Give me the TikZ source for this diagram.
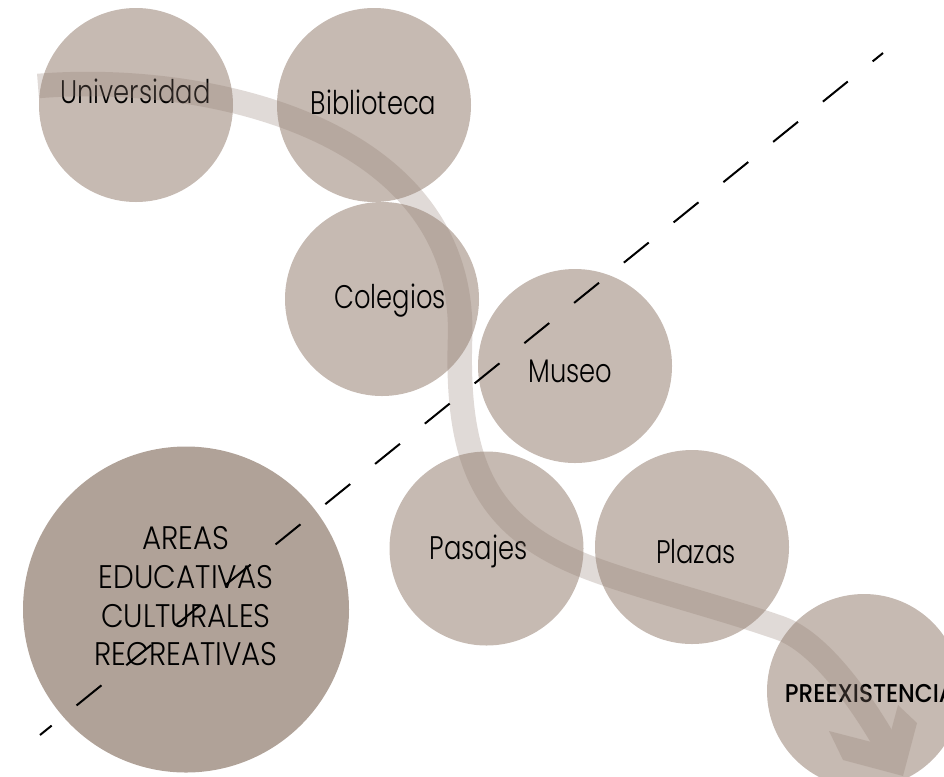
\documentclass[tikz,border=0pt]{standalone}
\usepackage{fontspec}
\setmainfont{Poppins}[UprightFont = {* Light}, BoldFont = {* Medium}, FakeStretch = 0.79]
\newfontfamily\capsfont{Poppins}[UprightFont = {* Light}, BoldFont = {* Medium}, FakeStretch = 0.90]
\definecolor{bubblefill}{RGB}{198,186,178}
\definecolor{bigfill}{RGB}{176,162,152}
\definecolor{flowfill}{RGB}{144,123,112}

\begin{document}
\begin{tikzpicture}[x = 0.75pt, y = -0.75pt,
                        bubble/.style = {circle, fill = bubblefill, minimum size = 145.5pt, inner sep = 0pt},
                        bigbubble/.style = {circle, fill = bigfill, minimum size = 244.5pt, inner sep = 0pt},
                        tag/.style = {anchor = base, inner sep = 0pt, font = \fontsize{24.5}{29}\selectfont},
                        flow/.style = {draw = flowfill, line width = 18.4pt},
                        cut/.style = {line width = 1.5pt, dash pattern = on 24pt off 24pt, dash phase = 12.75pt}]
      \useasboundingbox (0, 0) rectangle (944, 776);
      \node [bubble] (b1) at (136, 105){};       \node [tag] (t1) at (135.5, 103) {Universidad};
      \node [bubble] (b2) at (374, 105){};       \node [tag] (t2) at (373.5, 114) {Biblioteca};
      \node [bubble] (b3) at (382, 299){};       \node [tag] (t3) at (390, 308) {Colegios};
      \node [bubble] (b4) at (575, 366){};       \node [tag] (t4) at (570.5, 382) {Museo};
      \node [bubble] (b5) at (486.5, 548.5){};   \node [tag] (t5) at (478.5, 559) {Pasajes};
      \node [bubble] (b6) at (692, 547){};       \node [tag] (t6) at (696, 563) {Plazas};
      \node [bubble] (b7) at (864, 691){};       \node [tag, font = \capsfont\fontsize{19.3}{23}\selectfont\bfseries] (t7) at (870, 702) {PREEXISTENCIA};
      \node [bigbubble] (b8) at (186, 609.5){};
      \node [align = center, inner sep = 0pt, font = \capsfont\fontsize{24.5}{29}\selectfont] (t8) at (186, 596.5) {AREAS\\EDUCATIVAS\\CULTURALES\\RECREATIVAS};
      % flow arrow
      \coordinate (f0) at (38, 86);
      \coordinate (f1) at (887, 746);
      \begin{scope}[transparency group, opacity = 0.28]
        \draw [flow] (f0) .. controls (210, 72) and (468, 130) .. (460, 340)
                          .. controls (456, 470) and (490, 530) .. (590, 568)
                          .. controls (640, 587) and (720, 607) .. (780, 628)
                          .. controls (820, 642) and (862, 702) .. (f1);
        \fill [flowfill] (829, 731) -- (f1) -- (898, 705) -- (917, 723) -- (903, 776) -- (843, 760) -- cycle;
      \end{scope}
      % dashed cut
      \coordinate (c0) at (40, 735);
      \coordinate (c1) at (883, 53);
      \draw [cut] (c0) -- (c1);
    \end{tikzpicture}
\end{document}
